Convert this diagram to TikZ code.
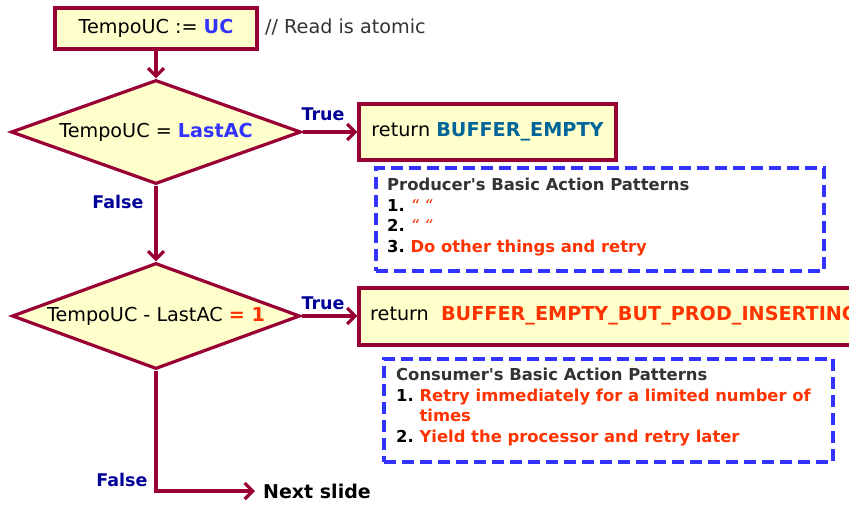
\documentclass[tikz,border=0pt]{standalone}
\usepackage{fontspec}
\setmainfont{DejaVu Sans}[Ligatures=TeXOff]
\usetikzlibrary{arrows.meta,shapes.geometric}
\definecolor{boxfill}{HTML}{FFFFCC}
\definecolor{frame}{HTML}{990033}
\definecolor{varblue}{HTML}{3333FF}
\definecolor{teal}{HTML}{006699}
\definecolor{navy}{HTML}{000099}
\definecolor{hot}{HTML}{FF3300}
\definecolor{note}{HTML}{333333}
\begin{document}
\begin{tikzpicture}[x=1pt,y=-1pt,
  flowbox/.style={draw=frame, fill=boxfill, line width=3.2pt, rectangle, inner sep=0pt},
  decision/.style={draw=frame, fill=boxfill, line width=3.2pt, diamond, aspect=3, inner sep=0pt},
  flow/.style={draw=frame, line width=3.2pt, -{Straight Barb[length=8pt,width=16pt]}},
  pattern/.style={draw=varblue, line width=3.2pt, dash pattern=on 12pt off 6pt, rectangle, inner sep=0pt},
  branch/.style={text=navy, font=\fontsize{17.5}{20}\selectfont\bfseries},
  maintext/.style={font=\fontsize{19.2}{22}\selectfont},
  listtext/.style={font=\fontsize{16.4}{20.5}\selectfont\bfseries, anchor=north west, inner sep=0pt, align=left}
]
\useasboundingbox (0,0) rectangle (849,504);
\clip (0,0) rectangle (849,504);

% read the use counter
\node[flowbox, maintext, minimum width=202pt, minimum height=41pt] (b1) at (156,28.5)
  {TempoUC := \textcolor{varblue}{\bfseries UC}};
\node[maintext, text=note, anchor=west, inner sep=0pt] (cmt) at (265,27) {// Read is atomic};

% first test
\node[decision, maintext, minimum width=290pt, minimum height=104pt] (d1) at (156,132)
  {TempoUC = \textcolor{varblue}{\bfseries LastAC}};
\node[flowbox, maintext, minimum width=257pt, minimum height=56pt] (b2) at (487.5,132)
  {return \textcolor{teal}{\bfseries BUFFER\_EMPTY}};
\node[branch] (t1) at (323,114) {True};
\node[branch] (f1) at (118,202) {False};

\node[pattern, minimum width=448pt, minimum height=103pt] (prod) at (600,219.5) {};
\node[listtext] (prodtxt) at (387,176) {%
  \begin{tabular}{@{}l@{\ }l@{}}
  \multicolumn{2}{@{}l@{}}{\textcolor{note}{Producer's Basic Action Patterns}}\\
  1. & \textcolor{hot}{\mdseries\itshape “ “}\\
  2. & \textcolor{hot}{\mdseries\itshape “ “}\\
  3. & \textcolor{hot}{Do other things and retry}
  \end{tabular}};

% second test
\node[decision, maintext, minimum width=288pt, minimum height=106pt] (d2) at (156,316)
  {TempoUC - LastAC \textcolor{hot}{\bfseries = 1}};
\node[flowbox, minimum width=511pt, minimum height=57pt] (b3) at (614.5,316.5) {};
\node[maintext, anchor=west, inner sep=0pt] (b3txt) at (370,316)
  {return \ \textcolor{hot}{\bfseries BUFFER\_EMPTY\_BUT\_PROD\_INSERTING}};
\node[branch] (t2) at (323,303) {True};
\node[branch] (f2) at (122,480) {False};

\node[pattern, minimum width=449pt, minimum height=103pt] (cons) at (608.5,410.5) {};
\node[listtext] (constxt) at (396,366) {%
  \begin{tabular}{@{}l@{\ }l@{}}
  \multicolumn{2}{@{}l@{}}{\textcolor{note}{Consumer's Basic Action Patterns}}\\
  1. & \textcolor{hot}{Retry immediately for a limited number of}\\
     & \textcolor{hot}{times}\\
  2. & \textcolor{hot}{Yield the processor and retry later}
  \end{tabular}};

\node[font=\fontsize{19}{22}\selectfont\bfseries, anchor=west, inner sep=0pt] (next) at (263,491) {Next slide};
\coordinate (nextin) at (255,491);

% connectors
\draw[flow] (b1.south) -- (d1.north);
\draw[flow] (d1.east) -- (b2.west);
\draw[flow] (d1.south) -- (d2.north);
\draw[flow] (d2.east) -- (d2.east -| b3.west);
\draw[flow] (d2.south) |- (nextin);
\end{tikzpicture}
\end{document}
